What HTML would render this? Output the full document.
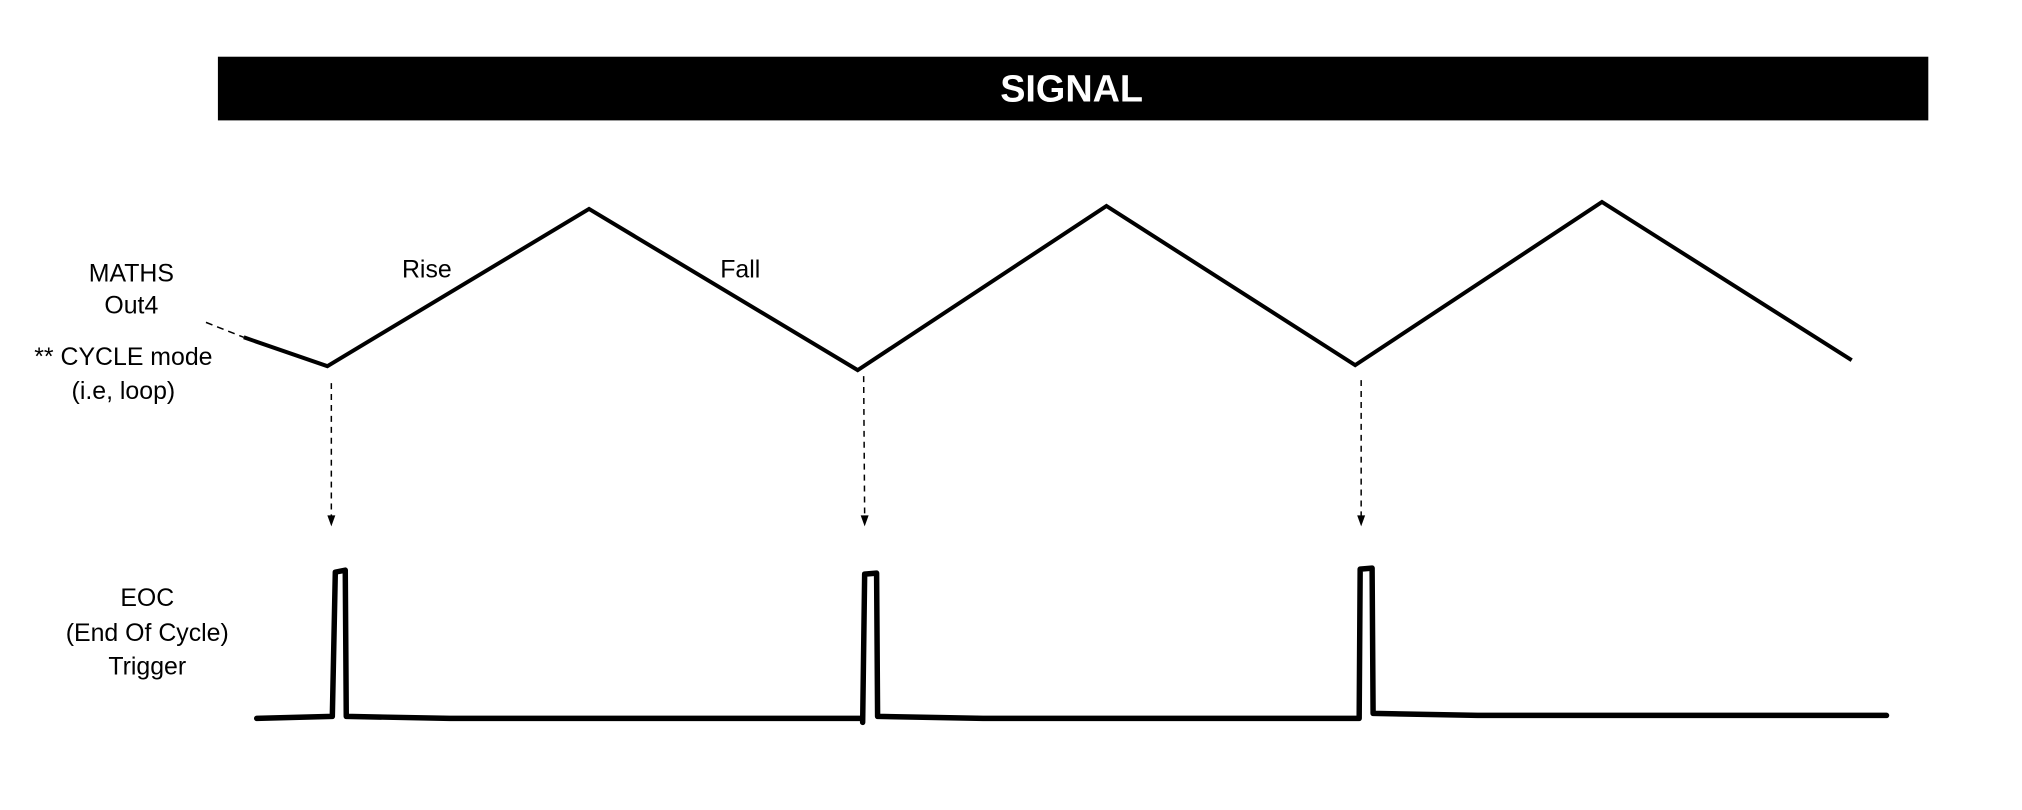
<!DOCTYPE html>
<html><head><meta charset="utf-8"><style>
html,body{margin:0;padding:0;background:#fff;}
svg{display:block;}
text{font-family:"Liberation Sans",Arial,sans-serif;fill:#000;}
</style></head><body>
<svg width="2022" height="810" viewBox="0 0 2022 810" xmlns="http://www.w3.org/2000/svg">
<g transform="scale(0.995)">
<rect x="219" y="57" width="1719" height="64" fill="#000"/>
<text x="1077" y="102" font-size="38" font-weight="bold" text-anchor="middle" style="fill:#fff">SIGNAL</text>

<g font-size="25" text-anchor="middle">
<text x="132" y="283">MATHS</text>
<text x="132" y="315">Out4</text>
<text x="124" y="367">** CYCLE mode</text>
<text x="124" y="401">(i.e, loop)</text>
<text x="429" y="279">Rise</text>
<text x="744" y="279">Fall</text>
<text x="148" y="609">EOC</text>
<text x="148" y="644">(End Of Cycle)</text>
<text x="148" y="678">Trigger</text>
</g>

<line x1="207" y1="324" x2="245" y2="339" stroke="#000" stroke-width="1.5" stroke-dasharray="7,5"/>
<polyline points="245,339 329,368 592,210 862,372 1112,207 1362,367 1610,203 1861,362" fill="none" stroke="#000" stroke-width="4" stroke-linejoin="miter"/>

<g stroke="#000" stroke-width="1.5" stroke-dasharray="6,5">
<line x1="333" y1="385" x2="333" y2="520"/>
<line x1="868" y1="378" x2="869" y2="519"/>
<line x1="1368" y1="382" x2="1368" y2="519"/>
</g>
<g fill="#000">
<polygon points="329,518 337,518 333,529"/>
<polygon points="865,518 873,518 869,529"/>
<polygon points="1364,518 1372,518 1368,529"/>
</g>

<polyline points="258,722 334,720 337,575 347,573 348,720 452,722 867,722 867,726 869,577 881,576 882,720 988,722 1366,722 1367,572 1379,571 1380,717 1485,719 1896,719" fill="none" stroke="#000" stroke-width="5.5" stroke-linejoin="round" stroke-linecap="round"/>
</g>
</svg>
</body></html>
